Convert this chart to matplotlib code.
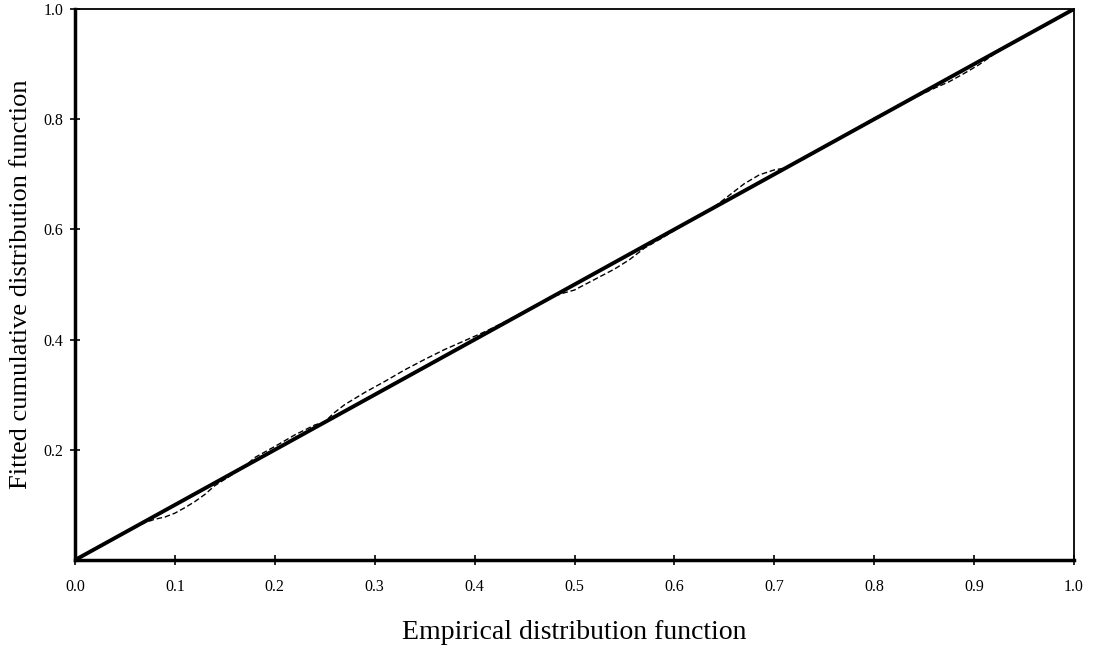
import matplotlib
matplotlib.use("Agg")
import matplotlib.pyplot as plt

# Reference diagonal (fitted = empirical)
diag_x = [0.0, 1.0]
diag_y = [0.0, 1.0]

# Empirical vs fitted CDF (dashed series)
empirical = [0.0, 0.02, 0.05, 0.07, 0.08, 0.09, 0.10, 0.11, 0.12, 0.13, 0.14,
             0.16, 0.17, 0.18, 0.20, 0.22, 0.24, 0.25, 0.26, 0.27, 0.29, 0.31,
             0.33, 0.35, 0.37, 0.39, 0.41, 0.43, 0.46, 0.48, 0.49, 0.50, 0.52,
             0.54, 0.555, 0.57, 0.59, 0.61, 0.64, 0.655, 0.67, 0.685, 0.70,
             0.71, 0.73, 0.76, 0.80, 0.83, 0.86, 0.875, 0.89, 0.905, 0.92,
             0.95, 1.0]
fitted = [0.0, 0.022, 0.05, 0.068, 0.074, 0.078, 0.085, 0.095, 0.106, 0.119,
          0.135, 0.158, 0.170, 0.186, 0.206, 0.227, 0.245, 0.251, 0.268, 0.282,
          0.304, 0.324, 0.345, 0.364, 0.382, 0.398, 0.414, 0.432, 0.461, 0.479,
          0.485, 0.490, 0.509, 0.528, 0.545, 0.566, 0.587, 0.609, 0.641, 0.662,
          0.683, 0.699, 0.708, 0.711, 0.728, 0.760, 0.802, 0.830, 0.856, 0.868,
          0.883, 0.899, 0.918, 0.951, 1.0]

xticks = [0.0, 0.1, 0.2, 0.3, 0.4, 0.5, 0.6, 0.7, 0.8, 0.9, 1.0]
yticks = [0.2, 0.4, 0.6, 0.8, 1.0]

plt.rcParams['font.family'] = ['Liberation Serif', 'DejaVu Serif']

fig = plt.figure(figsize=(10.99, 6.53), dpi=100)
ax = fig.add_axes([75 / 1099, 1 - 560 / 653, (1074 - 75) / 1099, (560 - 9) / 653])

ax.plot(empirical, fitted, color='black', lw=1.0, ls=(0, (4, 2)), zorder=2)
ax.plot(diag_x, diag_y, color='black', lw=2.8, solid_capstyle='butt', zorder=3)

ax.set_xlim(0, 1)
ax.set_ylim(0, 1)
ax.set_xticks(xticks)
ax.set_xticklabels([f"{v:.1f}" for v in xticks])
ax.set_yticks(yticks)
ax.set_yticklabels([f"{v:.1f}" for v in yticks])
ax.tick_params(axis='both', direction='inout', length=7, width=1.2,
               labelsize=11.5, colors='black')
ax.tick_params(axis='x', pad=10)
ax.tick_params(axis='y', pad=5)

for side in ['left', 'bottom']:
    ax.spines[side].set_linewidth(2.5)
for side in ['top', 'right']:
    ax.spines[side].set_linewidth(1.3)

ax.set_xlabel("Empirical distribution function", fontsize=20, labelpad=18)
ax.set_ylabel("Fitted cumulative distribution function", fontsize=19, labelpad=8)

fig.savefig("out.png", dpi=100)
